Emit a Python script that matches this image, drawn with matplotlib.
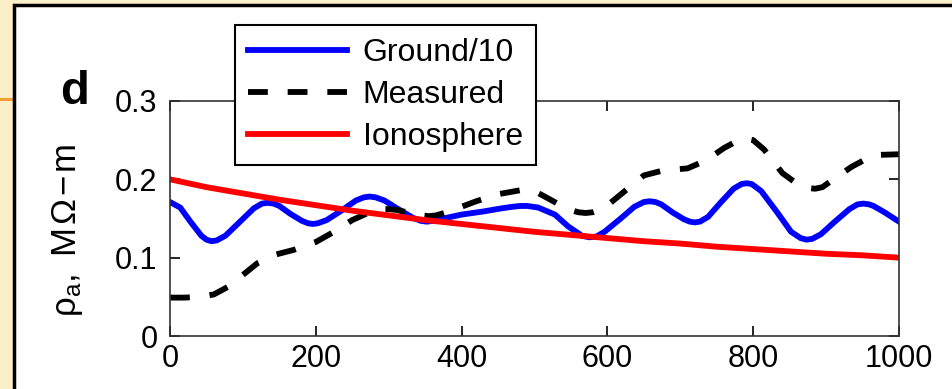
import matplotlib
matplotlib.use("Agg")
import matplotlib.pyplot as plt
from matplotlib.patches import Rectangle
from matplotlib.lines import Line2D

plt.rcParams['font.family'] = ['Liberation Sans', 'DejaVu Sans']
plt.rcParams['mathtext.fontset'] = 'custom'
plt.rcParams['mathtext.rm'] = 'Liberation Sans'
plt.rcParams['mathtext.it'] = 'Liberation Sans:italic'

# Ground/10 (blue)
ground_x = [0, 14, 28, 43, 50, 57, 64, 76, 95, 115, 126, 134, 142, 150, 165, 181, 189,
            196, 203, 215, 235, 255, 266, 274, 282, 294, 313, 333, 344, 352, 362, 375,
            400, 430, 455, 470, 480, 490, 505, 528, 546, 565, 575, 585, 596, 617, 637,
            650, 658, 666, 674, 689, 705, 713, 720, 727, 738, 755, 773, 784, 791, 798,
            811, 832, 852, 865, 873, 881, 893, 912, 932, 943, 951, 959, 965, 980, 1000]
ground_y = [0.171, 0.164, 0.146, 0.128, 0.123, 0.121, 0.122, 0.128, 0.145, 0.163, 0.169,
            0.170, 0.169, 0.166, 0.156, 0.147, 0.144, 0.143, 0.144, 0.148, 0.160, 0.173,
            0.177, 0.178, 0.177, 0.173, 0.162, 0.151, 0.147, 0.146, 0.147, 0.150, 0.155,
            0.159, 0.163, 0.165, 0.166, 0.166, 0.164, 0.155, 0.140, 0.128, 0.126, 0.127,
            0.133, 0.149, 0.165, 0.171, 0.172, 0.171, 0.168, 0.158, 0.149, 0.146, 0.145,
            0.146, 0.152, 0.170, 0.188, 0.194, 0.195, 0.194, 0.185, 0.159, 0.133, 0.125,
            0.123, 0.124, 0.130, 0.146, 0.162, 0.168, 0.169, 0.168, 0.166, 0.158, 0.146]

# Measured (black dashed)
meas_x = [0, 20, 40, 60, 80, 100, 120, 145, 170, 200, 225, 250, 274, 290, 300, 310, 330,
          345, 355, 365, 380, 420, 450, 480, 500, 520, 545, 560, 570, 580, 595, 620, 650,
          675, 710, 735, 760, 780, 790, 800, 815, 840, 865, 875, 885, 895, 910, 935, 965,
          1000]
meas_y = [0.049, 0.049, 0.050, 0.053, 0.063, 0.078, 0.093, 0.104, 0.110, 0.120, 0.133,
          0.148, 0.158, 0.162, 0.162, 0.161, 0.157, 0.154, 0.153, 0.154, 0.158, 0.172,
          0.181, 0.186, 0.185, 0.175, 0.162, 0.158, 0.157, 0.158, 0.163, 0.182, 0.205,
          0.211, 0.214, 0.224, 0.240, 0.250, 0.252, 0.250, 0.238, 0.208, 0.191, 0.189,
          0.188, 0.190, 0.200, 0.216, 0.231, 0.232]

# Ionosphere (red)
iono_x = [0, 50, 100, 150, 200, 250, 300, 350, 400, 450, 500, 550, 600, 650, 700, 750,
          800, 850, 900, 950, 1000]
iono_y = [0.200, 0.190, 0.182, 0.174, 0.167, 0.160, 0.154, 0.148, 0.143, 0.138, 0.133,
          0.129, 0.125, 0.121, 0.118, 0.114, 0.111, 0.108, 0.105, 0.103, 0.100]

xticks = [0, 200, 400, 600, 800, 1000]
yticks = [0, 0.1, 0.2, 0.3]
ytick_labels = ['0', '0.1', '0.2', '0.3']

W, H = 953, 389
fig = plt.figure(figsize=(W / 100, H / 100), dpi=100)
fig.patch.set_facecolor('#FBEFC9')

# slide panel + orange rule
fig.patches.append(Rectangle((14 / W, -0.1), 1.1, (H - 5) / H + 0.1, transform=fig.transFigure,
                             facecolor='white', edgecolor='black', linewidth=2.5, zorder=-2))
fig.lines.append(Line2D([0, 13 / W], [(H - 99) / H] * 2, transform=fig.transFigure,
                        color='#F0A030', linewidth=2.2, zorder=-3))

ax = fig.add_axes([170 / W, 53 / H, 729 / W, 235 / H])
ax.set_zorder(1)
lw = 4.2
ax.plot(ground_x, ground_y, color='#0000FF', lw=lw, solid_joinstyle='round', label='Ground/10')
ax.plot(meas_x, meas_y, color='black', lw=lw, dashes=(3.4, 3.4), label='Measured')
ax.plot(iono_x, iono_y, color='#FF0000', lw=lw, solid_joinstyle='round', label='Ionosphere')

ax.set_xlim(0, 1000)
ax.set_ylim(0, 0.3)
ax.set_xticks(xticks)
ax.set_yticks(yticks)
ax.set_yticklabels(ytick_labels)
ax.tick_params(direction='in', length=7, width=1.2, top=True, right=True, labelsize=22)
ax.tick_params(axis='y', pad=9)
ax.tick_params(axis='x', pad=6)
for s in ax.spines.values():
    s.set_linewidth(1.2)
    s.set_color('#333333')

ax.set_ylabel('$\\mathregular{\\rho_a}$,\u2009 M\u200aΩ\u200a−\u200am', fontsize=25)
ax.yaxis.set_label_coords(-0.117, 0.45)

fig.text(60 / W, (H - 104) / H, 'd', fontsize=34, fontweight='bold', ha='left', va='baseline')

leg = fig.legend(loc='upper left', bbox_to_anchor=(235 / W, (H - 25) / H), fontsize=23,
                 handlelength=3.1, handletextpad=0.5, labelspacing=0.38, borderpad=0.4,
                 borderaxespad=0, fancybox=False, framealpha=1, edgecolor='black')
leg.set_zorder(5)
leg.get_frame().set_linewidth(1.5)

fig.savefig('out.png', dpi=100, facecolor=fig.get_facecolor())
